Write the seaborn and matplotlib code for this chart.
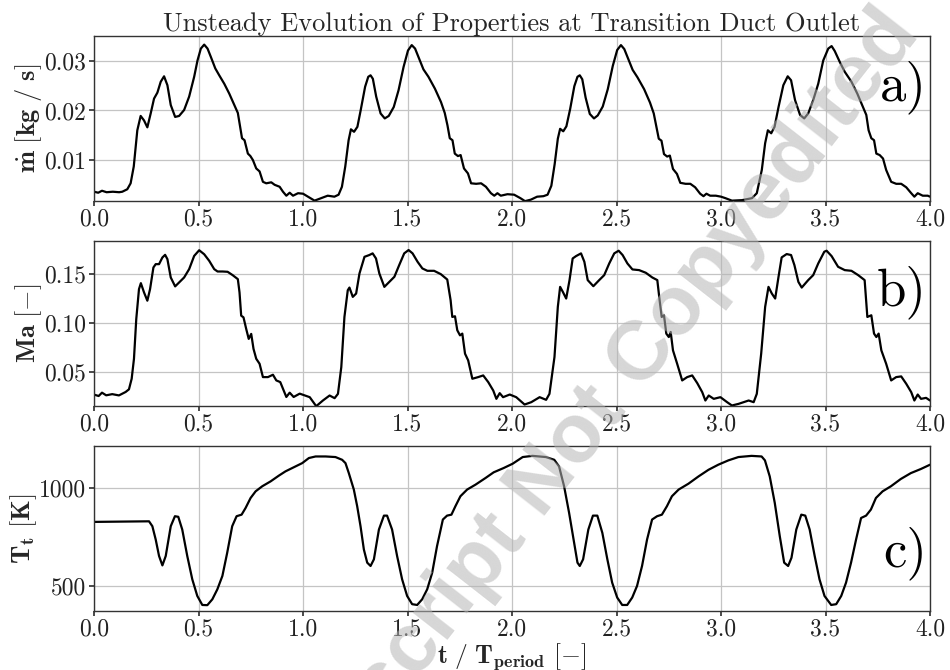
import numpy as np
import pandas as pd
import seaborn as sns
import matplotlib.pyplot as plt
from matplotlib.ticker import FormatStrFormatter

# a) mass flow [kg/s]
t_mdot = [
    0.0, 0.02, 0.038, 0.06, 0.09, 0.12, 0.135, 0.159, 0.175, 0.19,
    0.207, 0.223, 0.239, 0.255, 0.271, 0.287, 0.303, 0.319, 0.335, 0.351,
    0.367, 0.388, 0.407, 0.431, 0.455, 0.479, 0.495, 0.511, 0.527, 0.543,
    0.559, 0.58, 0.599, 0.623, 0.647, 0.671, 0.688, 0.699, 0.708, 0.72,
    0.736, 0.748, 0.76, 0.776, 0.792, 0.808, 0.824, 0.848, 0.864, 0.888,
    0.904, 0.92, 0.936, 0.952, 0.976,
    1.0, 1.024, 1.055, 1.087, 1.118, 1.15, 1.17, 1.186, 1.202, 1.218,
    1.229, 1.244, 1.26, 1.276, 1.297, 1.312, 1.323, 1.334, 1.35, 1.371,
    1.391, 1.41, 1.434, 1.457, 1.481, 1.502, 1.52, 1.536, 1.555, 1.576,
    1.6, 1.631, 1.66, 1.678, 1.691, 1.702, 1.715, 1.726, 1.741, 1.754,
    1.77, 1.789, 1.804, 1.828, 1.852, 1.875, 1.899, 1.915, 1.93, 1.946,
    1.978,
    2.01, 2.04, 2.062, 2.09, 2.12, 2.15, 2.17, 2.188, 2.204, 2.219,
    2.23, 2.245, 2.26, 2.278, 2.298, 2.313, 2.324, 2.336, 2.352, 2.372,
    2.392, 2.41, 2.434, 2.458, 2.482, 2.503, 2.521, 2.537, 2.556, 2.577,
    2.6, 2.632, 2.66, 2.678, 2.69, 2.702, 2.715, 2.727, 2.742, 2.755,
    2.77, 2.789, 2.805, 2.83, 2.853, 2.876, 2.9, 2.916, 2.93, 2.948,
    2.975,
    3.0, 3.021, 3.052, 3.1, 3.148, 3.171, 3.195, 3.211, 3.224, 3.24,
    3.256, 3.275, 3.298, 3.319, 3.335, 3.354, 3.378, 3.398, 3.417, 3.441,
    3.465, 3.489, 3.513, 3.529, 3.544, 3.568, 3.592, 3.624, 3.652, 3.679,
    3.695, 3.706, 3.719, 3.732, 3.743, 3.759, 3.775, 3.79, 3.814, 3.838,
    3.862, 3.886, 3.91, 3.925, 3.941, 3.965, 3.989, 4.0,
]
mdot = [
    0.0036, 0.0034, 0.0038, 0.0035, 0.0036, 0.0035, 0.0036, 0.0041, 0.0053, 0.0087,
    0.0160, 0.0189, 0.0180, 0.0166, 0.0194, 0.0224, 0.0236, 0.0258, 0.0269, 0.0251,
    0.0211, 0.0187, 0.0189, 0.0201, 0.0228, 0.0268, 0.0301, 0.0325, 0.0333, 0.0325,
    0.0308, 0.0285, 0.0271, 0.0254, 0.0234, 0.0211, 0.0195, 0.0167, 0.0144, 0.0140,
    0.0113, 0.0108, 0.0100, 0.0083, 0.0077, 0.0056, 0.0053, 0.0055, 0.0050, 0.0046,
    0.0036, 0.0028, 0.0034, 0.0028, 0.0033,
    0.0032, 0.0026, 0.0018, 0.0023, 0.0028, 0.0026, 0.0030, 0.0046, 0.0087, 0.0140,
    0.0162, 0.0157, 0.0167, 0.0201, 0.0248, 0.0268, 0.0271, 0.0264, 0.0228, 0.0194,
    0.0184, 0.0189, 0.0207, 0.0241, 0.0288, 0.0321, 0.0332, 0.0325, 0.0305, 0.0283,
    0.0268, 0.0244, 0.0217, 0.0195, 0.0170, 0.0144, 0.0140, 0.0113, 0.0108, 0.0110,
    0.0083, 0.0073, 0.0053, 0.0052, 0.0053, 0.0046, 0.0033, 0.0028, 0.0033, 0.0028,
    0.0031,
    0.0030, 0.0023, 0.0017, 0.0020, 0.0026, 0.0027, 0.0030, 0.0048, 0.0092, 0.0143,
    0.0163, 0.0158, 0.0168, 0.0203, 0.0249, 0.0268, 0.0271, 0.0263, 0.0226, 0.0193,
    0.0184, 0.0190, 0.0208, 0.0243, 0.0290, 0.0322, 0.0332, 0.0324, 0.0304, 0.0282,
    0.0267, 0.0243, 0.0216, 0.0194, 0.0168, 0.0143, 0.0139, 0.0112, 0.0107, 0.0109,
    0.0082, 0.0072, 0.0054, 0.0052, 0.0052, 0.0045, 0.0032, 0.0027, 0.0032, 0.0028,
    0.0028,
    0.0026, 0.0023, 0.0018, 0.0019, 0.0023, 0.0033, 0.0080, 0.0134, 0.0160, 0.0154,
    0.0167, 0.0207, 0.0251, 0.0269, 0.0261, 0.0221, 0.0191, 0.0184, 0.0194, 0.0221,
    0.0254, 0.0301, 0.0325, 0.0330, 0.0320, 0.0298, 0.0278, 0.0258, 0.0234, 0.0207,
    0.0191, 0.0160, 0.0144, 0.0140, 0.0113, 0.0110, 0.0103, 0.0080, 0.0056, 0.0052,
    0.0052, 0.0045, 0.0033, 0.0026, 0.0033, 0.0028, 0.0028, 0.0026,
]

# b) Mach number [-]
t_ma = [
    0.0, 0.022, 0.038, 0.058, 0.087, 0.119, 0.151, 0.167, 0.18, 0.191,
    0.202, 0.215, 0.224, 0.239, 0.255, 0.268, 0.284, 0.295, 0.311, 0.327,
    0.34, 0.351, 0.367, 0.388, 0.407, 0.431, 0.455, 0.479, 0.503, 0.527,
    0.551, 0.575, 0.591, 0.615, 0.639, 0.663, 0.688, 0.696, 0.704, 0.715,
    0.728, 0.74, 0.752, 0.763, 0.776, 0.792, 0.808, 0.832, 0.856, 0.872,
    0.891, 0.907, 0.92, 0.936, 0.955, 0.984,
    1.0, 1.032, 1.063, 1.095, 1.127, 1.151, 1.167, 1.183, 1.198, 1.214,
    1.222, 1.238, 1.254, 1.27, 1.294, 1.317, 1.333, 1.349, 1.365, 1.389,
    1.413, 1.437, 1.46, 1.484, 1.505, 1.524, 1.548, 1.571, 1.595, 1.627,
    1.659, 1.69, 1.706, 1.714, 1.727, 1.738, 1.751, 1.762, 1.775, 1.79,
    1.81, 1.838, 1.862, 1.886, 1.91, 1.925, 1.941, 1.957, 1.989,
    2.02, 2.06, 2.092, 2.132, 2.163, 2.179, 2.203, 2.219, 2.23, 2.243,
    2.259, 2.275, 2.29, 2.306, 2.33, 2.346, 2.362, 2.389, 2.417, 2.441,
    2.465, 2.489, 2.51, 2.529, 2.552, 2.576, 2.608, 2.64, 2.671, 2.695,
    2.706, 2.716, 2.727, 2.738, 2.75, 2.759, 2.77, 2.79, 2.814, 2.838,
    2.862, 2.886, 2.91, 2.925, 2.941, 2.965, 2.997,
    3.029, 3.052, 3.084, 3.132, 3.156, 3.171, 3.192, 3.211, 3.227, 3.243,
    3.259, 3.275, 3.29, 3.314, 3.335, 3.351, 3.37, 3.386, 3.417, 3.441,
    3.465, 3.494, 3.505, 3.529, 3.56, 3.592, 3.624, 3.656, 3.687, 3.7,
    3.719, 3.732, 3.743, 3.754, 3.767, 3.79, 3.814, 3.838, 3.862, 3.886,
    3.91, 3.925, 3.941, 3.957, 3.981, 4.0,
]
ma = [
    0.0270, 0.0256, 0.0290, 0.0263, 0.0275, 0.0262, 0.0297, 0.0324, 0.0432, 0.0636,
    0.1042, 0.1347, 0.1408, 0.1314, 0.1229, 0.1347, 0.1568, 0.1602, 0.1602, 0.1670,
    0.1697, 0.1653, 0.1466, 0.1375, 0.1415, 0.1466, 0.1551, 0.1686, 0.1744, 0.1703,
    0.1636, 0.1551, 0.1527, 0.1527, 0.1524, 0.1490, 0.1449, 0.1314, 0.1076, 0.1059,
    0.0941, 0.0839, 0.0890, 0.0737, 0.0636, 0.0585, 0.0449, 0.0449, 0.0473, 0.0415,
    0.0398, 0.0314, 0.0246, 0.0290, 0.0246, 0.0280,
    0.0268, 0.0244, 0.0152, 0.0210, 0.0261, 0.0234, 0.0278, 0.0551, 0.1063, 0.1336,
    0.1363, 0.1268, 0.1302, 0.1507, 0.1677, 0.1695, 0.1712, 0.1660, 0.1507, 0.1370,
    0.1421, 0.1473, 0.1592, 0.1712, 0.1746, 0.1712, 0.1626, 0.1558, 0.1534, 0.1534,
    0.1500, 0.1445, 0.1234, 0.1063, 0.1070, 0.0927, 0.0875, 0.0893, 0.0688, 0.0620,
    0.0432, 0.0449, 0.0466, 0.0398, 0.0312, 0.0227, 0.0285, 0.0244, 0.0271,
    0.0244, 0.0169, 0.0193, 0.0244, 0.0217, 0.0278, 0.0654, 0.1166, 0.1370, 0.1319,
    0.1251, 0.1439, 0.1660, 0.1684, 0.1712, 0.1626, 0.1439, 0.1377, 0.1439, 0.1490,
    0.1609, 0.1712, 0.1739, 0.1695, 0.1609, 0.1548, 0.1541, 0.1514, 0.1466, 0.1439,
    0.1234, 0.1063, 0.1080, 0.0893, 0.0858, 0.0910, 0.0722, 0.0585, 0.0415, 0.0449,
    0.0466, 0.0388, 0.0295, 0.0210, 0.0261, 0.0227, 0.0244,
    0.0193, 0.0159, 0.0176, 0.0210, 0.0193, 0.0278, 0.0688, 0.1166, 0.1370, 0.1302,
    0.1251, 0.1473, 0.1671, 0.1705, 0.1695, 0.1592, 0.1421, 0.1363, 0.1439, 0.1490,
    0.1609, 0.1729, 0.1739, 0.1684, 0.1575, 0.1541, 0.1534, 0.1490, 0.1439, 0.1063,
    0.1080, 0.0893, 0.0858, 0.0893, 0.0722, 0.0585, 0.0415, 0.0449, 0.0456, 0.0381,
    0.0295, 0.0210, 0.0271, 0.0227, 0.0237, 0.0210,
]

# c) total temperature [K]
t_tt = [
    0.0, 0.263, 0.279, 0.295, 0.311, 0.327, 0.343, 0.367, 0.387, 0.403,
    0.422, 0.446, 0.47, 0.494, 0.518, 0.542, 0.566, 0.59, 0.614, 0.637,
    0.661, 0.682, 0.706, 0.725, 0.749, 0.773, 0.805, 0.845, 0.884, 0.916,
    0.964, 0.996, 1.028, 1.06, 1.108, 1.155, 1.187, 1.203, 1.219, 1.243,
    1.259, 1.275, 1.291, 1.307, 1.323, 1.339, 1.363, 1.387, 1.402, 1.426,
    1.45, 1.474, 1.498, 1.522, 1.546, 1.57, 1.594, 1.618, 1.641, 1.669,
    1.689, 1.71, 1.729, 1.753, 1.785, 1.825, 1.873, 1.912, 1.96, 2.003,
    2.051, 2.098, 2.162, 2.202, 2.225, 2.249, 2.273, 2.297, 2.313, 2.324,
    2.34, 2.365, 2.387, 2.408, 2.432, 2.456, 2.479, 2.503, 2.527, 2.551,
    2.575, 2.598, 2.622, 2.646, 2.67, 2.694, 2.717, 2.741, 2.765, 2.797,
    2.844, 2.892, 2.94, 2.987, 3.035, 3.083, 3.146, 3.194, 3.21, 3.233,
    3.257, 3.281, 3.302, 3.321, 3.337, 3.36, 3.384, 3.403, 3.424, 3.448,
    3.471, 3.495, 3.527, 3.551, 3.575, 3.598, 3.622, 3.646, 3.67, 3.694,
    3.717, 3.741, 3.773, 3.813, 3.86, 3.908, 3.956, 4.0,
]
tt = [
    827, 830, 805, 737, 653, 605, 653, 805, 856, 853,
    788, 653, 534, 449, 403, 402, 432, 483, 551, 669,
    805, 856, 864, 898, 949, 983, 1009, 1034, 1063, 1085,
    1110, 1127, 1153, 1161, 1161, 1158, 1144, 1127, 1076, 992,
    907, 805, 686, 619, 602, 636, 788, 859, 859, 788,
    653, 534, 449, 407, 403, 432, 483, 568, 703, 839,
    859, 864, 907, 958, 992, 1017, 1051, 1080, 1102, 1124,
    1158, 1164, 1158, 1144, 1110, 1009, 873, 720, 619, 602,
    636, 788, 859, 859, 771, 636, 517, 441, 403, 403,
    441, 500, 602, 737, 839, 856, 864, 907, 958, 992,
    1022, 1059, 1093, 1119, 1141, 1158, 1164, 1161, 1141, 1059,
    924, 754, 619, 602, 644, 788, 864, 859, 788, 653,
    534, 449, 403, 407, 449, 517, 619, 737, 847, 859,
    890, 949, 983, 1009, 1046, 1076, 1097, 1119,
]

panel_tags = ["a)", "b)", "c)"]
y_labels = [r"$\mathbf{\dot{m}}\ [\mathbf{kg\ /\ s}]$",
            r"$\mathbf{Ma}\ [-]$",
            r"$\mathbf{T_t}\ [\mathbf{K}]$"]
y_ticks = [[0.01, 0.02, 0.03], [0.05, 0.10, 0.15], [500, 1000]]
y_fmt = ["%.2f", "%.2f", "%d"]
y_lims = [(0.0017, 0.035), (0.0153, 0.1837), (372, 1214)]
tag_y = [0.69, 0.69, 0.35]
x_ticks = [0.0, 0.5, 1.0, 1.5, 2.0, 2.5, 3.0, 3.5, 4.0]

series = [
    pd.DataFrame({"t": t_mdot, "v": mdot}),
    pd.DataFrame({"t": t_ma, "v": ma}),
    pd.DataFrame({"t": t_tt, "v": tt}),
]

sns.set_theme(style="ticks", rc={"axes.grid": True})
plt.rcParams.update({
    "font.family": ["cmr10"],
    "mathtext.fontset": "cm",
    "axes.unicode_minus": False,
    "axes.formatter.use_mathtext": True,
    "axes.edgecolor": "#333333",
    "axes.linewidth": 1.0,
    "grid.color": "#c4c4c4",
    "grid.linewidth": 0.9,
    "xtick.color": "#333333",
    "ytick.color": "#333333",
    "xtick.labelcolor": "#222222",
    "ytick.labelcolor": "#222222",
    "xtick.major.size": 3.5,
    "ytick.major.size": 3.5,
})

fig, axes = plt.subplots(3, 1, figsize=(9.5, 6.7), dpi=100)
fig.subplots_adjust(left=0.099, right=0.979, top=0.946, bottom=0.088, hspace=0.2424)

for i, ax in enumerate(axes):
    sns.lineplot(data=series[i], x="t", y="v", ax=ax, color="black",
                 linewidth=1.6, estimator=None, sort=False)
    ax.set_xlim(0, 4)
    ax.set_ylim(*y_lims[i])
    ax.set_xticks(x_ticks)
    ax.set_yticks(y_ticks[i])
    ax.xaxis.set_major_formatter(FormatStrFormatter("%.1f"))
    ax.yaxis.set_major_formatter(FormatStrFormatter(y_fmt[i]))
    ax.tick_params(labelsize=17, pad=2)
    ax.set_ylabel(y_labels[i], fontsize=19, labelpad=0)
    ax.set_xlabel("")
    ax.text(0.996, tag_y[i], panel_tags[i], transform=ax.transAxes,
            ha="right", va="center", fontsize=38, color="black")

axes[0].set_title("Unsteady Evolution of Properties at Transition Duct Outlet",
                  fontsize=19, pad=2)
axes[2].set_xlabel(r"$\mathbf{t}\ /\ \mathbf{T_{period}}\ [-]$", fontsize=18.5, labelpad=0)

fig.text(0.600, 0.331, "Manuscript Not Copyedited", rotation=52,
         ha="center", va="center", rotation_mode="anchor",
         family=["Liberation Sans", "DejaVu Sans"], fontweight="bold",
         fontsize=60, color="#b5b5b5", alpha=0.55, zorder=10)

fig.savefig("out.png", dpi=100)
